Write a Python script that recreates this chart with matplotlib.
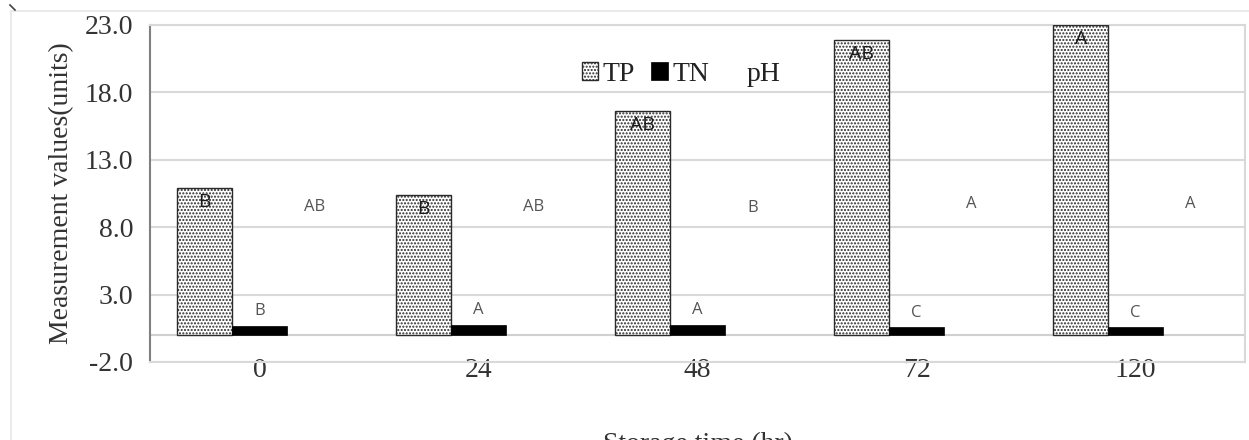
import matplotlib.pyplot as plt
import matplotlib.lines as mlines
import matplotlib.patches as mpatches
import numpy as np

plt.rcParams['hatch.linewidth'] = 1.0

times = ['0', '24', '48', '72', '120']
tp = [10.9, 10.4, 16.6, 21.9, 23.0]
tn = [0.7, 0.75, 0.75, 0.57, 0.57]
ph = [8.4, 8.4, 8.3, 8.6, 8.6]
tp_letters = ['B', 'B', 'AB', 'AB', 'A']
tn_letters = ['B', 'A', 'A', 'C', 'C']
ph_letters = ['AB', 'AB', 'B', 'A', 'A']
yticks = [-2.0, 3.0, 8.0, 13.0, 18.0, 23.0]

serif = 'Liberation Serif'
sans = 'Open Sans'

fig = plt.figure(figsize=(12.49, 4.4), dpi=100)
ax = fig.add_axes([0.1201, 0.1773, 0.8767, 0.7659])

x = np.arange(len(times))
w = 0.25

b_tp = ax.bar(x - w, tp, w, color='white', edgecolor='#2a2a2a', hatch='.....',
              linewidth=1.0, label='TP', zorder=3)
b_tn = ax.bar(x, tn, w, color='black', edgecolor='black', linewidth=0.5,
              label='TN', zorder=3)
b_ph = ax.bar(x + w, ph, w, color='none', edgecolor='none', label='pH', zorder=3)

# significance letters
for i in range(len(times)):
    ax.text(x[i] - w, tp[i] - 0.35, tp_letters[i], ha='center', va='top',
            fontsize=14, color='#1a1a1a', family=sans, zorder=4)
    ax.text(x[i], tn[i] + 0.5, tn_letters[i], ha='center', va='bottom',
            fontsize=12, color='#555555', family=sans, zorder=4)
    ax.text(x[i] + w, ph[i] + 0.5, ph_letters[i], ha='center', va='bottom',
            fontsize=12, color='#555555', family=sans, zorder=4)

ax.set_xlim(-0.5, len(times) - 0.5)
ax.set_ylim(-2, 23)
ax.set_yticks(yticks)
ax.set_yticklabels(['%.1f' % v for v in yticks], family=serif, fontsize=20, color='#333333')
ax.set_xticks(x)
ax.set_xticklabels(times, family=serif, fontsize=20, color='#333333')
ax.tick_params(axis='both', length=0)
ax.tick_params(axis='y', pad=12)
ax.tick_params(axis='x', pad=-3)

ax.grid(axis='y', color='#d9d9d9', linewidth=1.5, zorder=0)
ax.axhline(0, color='#d0d0d0', linewidth=1.5, zorder=1)
for s in ['top', 'right', 'bottom']:
    ax.spines[s].set_color('#d9d9d9')
    ax.spines[s].set_linewidth(1.5)
ax.spines['left'].set_color('#808080')
ax.spines['left'].set_linewidth(1.5)

ax.set_ylabel('Measurement values(units)', family=serif, fontsize=20, color='#333333',
              labelpad=8)
# x axis title, partly cut off by the lower edge as in the source image
fig.text(698, -11, 'Storage time (hr)', family=serif, fontsize=20,
         color='#333333', ha='center', va='baseline', transform=None)

leg = ax.legend(handles=[b_tp, b_tn, b_ph], loc='upper center', ncol=3,
                bbox_to_anchor=(0.485, 0.965), frameon=False,
                prop={'family': serif, 'size': 20}, handlelength=0.6,
                handleheight=0.6, handletextpad=0.15, columnspacing=0.6)
for t in leg.get_texts():
    t.set_color('#222222')

# outer chart border
fig.patches.append(mpatches.Rectangle((11 / 1249, -0.1), 1.2, (440 - 11) / 440 + 0.1,
                                      transform=fig.transFigure, fill=False,
                                      edgecolor='#e6e6e6', linewidth=1.2))
fig.lines.append(mlines.Line2D([10 / 1249, 15 / 1249], [1 - 5 / 440, 1 - 10 / 440],
                               transform=fig.transFigure, color='#444444', linewidth=1.2))

fig.savefig('out.png', dpi=100)
